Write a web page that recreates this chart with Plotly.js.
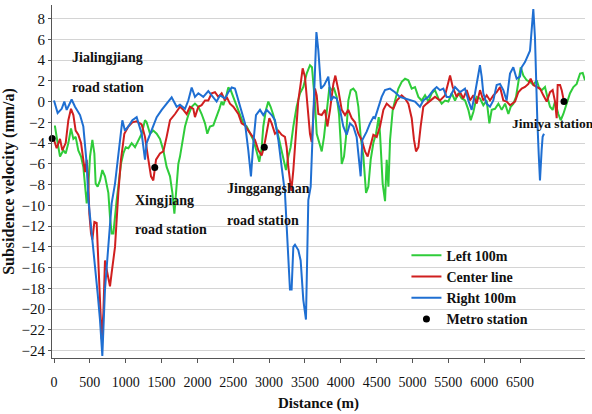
<!DOCTYPE html>
<html>
<head>
<meta charset="utf-8">
<script src="https://cdn.plot.ly/plotly-3.0.1.min.js"></script>
<style>html,body{margin:0;padding:0;background:#fff;}#chart{width:592px;height:414px;}</style>
</head>
<body>
<div id="chart"></div>
<script>
// Left 100m (green)
const leftX = [0,14,51,84,130,163,200,237,270,302,339,377,409,432,456,479,502,535,563,581,609,642,674,711,735,758,781,804,828,851,874,897,934,967,1000,1037,1083,1130,1176,1223,1269,1292,1339,1385,1432,1478,1525,1571,1618,1651,1679,1702,1734,1757,1794,1827,1873,1920,1966,2013,2059,2106,2138,2175,2222,2268,2306,2338,2361,2399,2431,2464,2501,2547,2594,2640,2687,2733,2780,2826,2863,2896,2919,2956,2989,3021,3059,3105,3152,3198,3235,3268,3300,3338,3384,3431,3477,3524,3570,3598,3617,3641,3664,3701,3734,3766,3803,3841,3873,3906,3943,3975,3999,4013,4045,4073,4105,4138,4175,4212,4245,4277,4315,4352,4384,4417,4454,4491,4529,4547,4584,4617,4640,4664,4687,4724,4757,4803,4850,4896,4942,4989,5035,5082,5128,5175,5221,5268,5314,5361,5407,5454,5500,5547,5593,5640,5686,5733,5779,5812,5849,5895,5942,5988,6035,6072,6105,6151,6198,6244,6291,6337,6370,6407,6444,6476,6509,6546,6593,6639,6686,6732,6769,6802,6848,6881,6918,6955,6988,7034,7067,7104,7150,7197,7244,7290,7337,7374,7406];
const leftY = [-2.4,-2.4,-4.0,-5.3,-4.7,-5.0,-4.0,-2.6,-3.6,-3.4,-4.7,-5.3,-6.3,-7.9,-9.8,-8.2,-5.3,-3.7,-5.0,-7.9,-8.2,-7.6,-6.6,-7.2,-7.9,-8.8,-11.1,-12.7,-12.7,-10.8,-9.5,-8.2,-6.0,-5.0,-4.4,-4.5,-4.0,-4.4,-3.7,-3.1,-1.8,-2.0,-3.1,-2.8,-3.1,-3.6,-4.7,-6.3,-7.2,-8.8,-10.8,-8.8,-6.0,-5.3,-3.7,-2.4,-1.3,-0.5,-0.2,-0.5,-1.2,-2.1,-3.1,-2.4,-2.3,-1.5,-0.7,0,-0.35,0.45,1.35,1.1,0.45,-0.5,-1.2,-2.1,-2.4,-3.1,-3.7,-4.8,-5.8,-4.5,-2.4,-0.8,0,-0.5,-1.3,-2.6,-4.0,-5.3,-6.6,-5.3,-4.4,-2.4,-0.5,0.8,1.4,2.7,3.5,3.3,1.7,-0.2,-3.1,-4.0,-4.8,-3.4,-0.8,1.4,1.1,1.25,0.45,-1.2,-4.0,-6.0,-5.3,-3.4,0.1,1.1,1.25,0.9,-0.5,-3.4,-5.3,-8.8,-8.2,-5.6,-4.0,-3.1,-1.5,-3.1,-7.9,-9.6,-5.6,-8.2,-3.7,-0.8,0.1,1.25,1.9,2.2,2.05,1.25,1.4,0.45,0.1,0.6,0,0.8,1.1,0.3,-0.2,0.1,0,0.8,0.1,0.8,0.3,0.1,-0.8,-1.8,-1.0,0.45,0.3,-0.35,0.1,-2.1,-0.8,-0.7,-0.2,-0.8,-0.2,-1.2,-0.5,-0.2,0.45,2.05,3.3,2.5,2.05,1.9,1.6,2.05,1.25,1.1,1.4,0.45,-0.5,-0.8,0,-1.2,-1.8,-1.2,-0.2,0.8,1.4,1.7,2.7,2.75,2.05];

// Center line (red)
const centerX = [0,37,84,116,163,200,237,270,302,339,377,409,432,456,479,493,516,535,563,595,618,642,665,688,711,735,781,804,851,897,934,981,1037,1093,1153,1223,1269,1316,1353,1385,1423,1478,1525,1571,1618,1688,1757,1804,1850,1896,1943,1966,2013,2059,2106,2152,2199,2245,2292,2338,2385,2408,2454,2501,2571,2617,2664,2710,2757,2803,2850,2896,2928,2966,3003,3036,3082,3129,3175,3221,3245,3268,3310,3338,3375,3407,3440,3468,3500,3533,3570,3594,3617,3640,3664,3687,3734,3780,3813,3850,3896,3924,3966,4013,4059,4105,4152,4198,4245,4291,4338,4375,4408,4454,4501,4547,4594,4640,4687,4733,4780,4849,4896,4942,4989,5021,5049,5082,5114,5151,5198,5245,5314,5384,5454,5524,5561,5616,5663,5709,5756,5802,5849,5895,5942,5988,6035,6081,6128,6174,6221,6267,6314,6360,6430,6476,6523,6569,6616,6648,6686,6732,6779,6825,6872,6918,6955,6988,7011,7025,7058,7081,7104];
const centerY = [-3.7,-4.5,-3.6,-4.7,-4.0,-1.8,-0.7,-1.3,-2.8,-3.2,-4.0,-6.0,-6.8,-5.6,-7.9,-10.8,-12.7,-13.3,-11.6,-11.7,-15.3,-19.1,-22.9,-20.4,-15.3,-16.2,-17.8,-16.5,-14.0,-8.8,-5.6,-3.1,-2.4,-2.0,-1.9,-2.2,-3.4,-5.6,-7.2,-7.6,-5.6,-5.0,-4.8,-3.4,-1.8,-1.2,-0.5,-0.8,-1.2,-0.5,-0.7,-1.5,-0.5,-0.35,0.1,0.1,0.8,0.9,0.45,0.8,0.1,0.45,-0.2,-0.5,-1.2,-2.1,-2.3,-2.8,-3.2,-3.7,-4.7,-5.2,-4.4,-3.1,-1.6,-2.1,-3.1,-2.8,-3.2,-3.4,-4.4,-6.3,-8.6,-6.6,-3.1,0.1,1.7,3.2,2.4,0.1,-3.1,-3.9,-0.8,1.25,0.6,-1.2,-1.3,-0.8,-2.4,-0.8,1.7,2.5,1.1,-0.8,-1.3,-0.8,-1.6,-2.0,-3.1,-3.7,-4.8,-5.3,-4.4,-3.2,-3.4,-2.4,-0.8,-0.2,-0.5,-0.7,0.1,0.6,0.3,-0.2,-1.6,-3.7,-4.8,-4.4,-2.4,-0.5,-0.2,0.1,0.45,0.1,0.6,2.5,1.4,0.45,0.9,0.3,1.1,0.1,0.6,-0.2,1.1,0.1,0.6,0.1,0.6,0.9,1.4,0.1,0,-0.35,0,0.9,1.25,1.4,1.7,2.2,1.6,1.4,1.25,0.6,0,0.9,1.1,0,-1.6,1.6,1.6,1.1,0.3];

// Right 100m (blue)
const rightX = [0,51,107,144,177,246,293,363,409,456,480,525,572,609,641,674,711,758,804,851,897,953,990,1037,1093,1153,1223,1269,1292,1362,1432,1502,1571,1641,1711,1757,1827,1873,1920,1966,2013,2082,2152,2199,2268,2315,2385,2431,2478,2524,2571,2617,2664,2710,2747,2780,2817,2873,2919,2966,3036,3082,3129,3175,3221,3245,3268,3291,3314,3338,3361,3407,3440,3477,3514,3533,3547,3580,3608,3631,3660,3687,3700,3724,3770,3826,3863,3896,3942,3989,4035,4082,4128,4175,4221,4244,4277,4300,4361,4407,4454,4477,4523,4570,4616,4686,4756,4825,4895,4988,5035,5104,5151,5221,5290,5337,5383,5430,5476,5523,5593,5662,5732,5779,5825,5872,5918,5941,5965,5988,6034,6081,6127,6174,6220,6267,6313,6360,6406,6453,6499,6522,6569,6601,6639,6662,6685,6708,6722,6741,6760,6778,6801,6815,6834];
const rightY = [0.1,-1.1,-0.7,0,-0.8,0.2,-0.5,-1.3,-2.4,-6.0,-9.5,-12.7,-15.3,-18.5,-21,-24.5,-18.1,-14.3,-9.8,-7.9,-5.3,-1.8,-2.8,-2.4,-1.8,-1.5,-3.1,-5.6,-4.0,-2.8,-1.5,-0.8,-0.2,0.4,-0.5,-0.3,-0.7,0.1,1.35,0.45,0.8,0.45,1.0,0.6,0,0.6,0.3,0.9,1.35,1.25,0.1,-0.8,-2.1,-4.7,-7.2,-4.0,-1.3,-0.8,-1.3,-0.8,-1.3,-1.8,-3.7,-6.3,-8.8,-12,-15.3,-18.1,-18.1,-14.0,-13.8,-14.3,-15.3,-19.1,-21.0,-15.9,-9.5,-8.2,-3.1,1.7,6.7,4.9,3.3,1.25,1.6,2.4,0.1,0.45,0.3,-0.8,-2.4,-3.2,-2.1,-2.4,-3.4,-5.3,-7.2,-3.7,-2.9,-2.1,-1.5,-1.6,-0.5,0.45,1.1,1.25,0.9,0.45,0.3,0.1,0,-0.5,0.1,0.45,1.1,1.4,1.1,1.25,0.45,0.45,1.4,0.9,1.25,0.1,-0.8,0.8,2.4,3.5,2.4,0.8,-0.2,-0.5,0.1,1.6,1.7,1.1,0.1,2.7,3.3,2.2,2.4,3.3,3.8,4.3,4.9,6.9,8.9,6.2,1.7,-1.8,-5.0,-7.6,-4.7,-3.4,-3.1];

// Metro stations
const stationNames = ["Jialingjiang road station","Xingjiang road station","Jinggangshan road station","Jimiya station"];
const stationX = [-25,1405,2933,7113];
const stationY = [-3.56,-6.35,-4.4,0.0];

const seriesNames = ["Left 100m","Center line","Right 100m","Metro station"];
const xTickVals = [0,500,1000,1500,2000,2500,3000,3500,4000,4500,5000,5500,6000,6500];
const yTickVals = [-24,-22,-20,-18,-16,-14,-12,-10,-8,-6,-4,-2,0,2,4,6,8];

const serif = 'Times New Roman, Liberation Serif, DejaVu Serif, serif';

const traces = [
  {x: leftX, y: leftY, name: seriesNames[0], mode: 'lines', line: {color: '#2fcc3a', width: 2}},
  {x: centerX, y: centerY, name: seriesNames[1], mode: 'lines', line: {color: '#d01f1f', width: 2}},
  {x: rightX, y: rightY, name: seriesNames[2], mode: 'lines', line: {color: '#1f6fd2', width: 2}},
  {x: stationX, y: stationY, name: seriesNames[3], mode: 'markers', text: stationNames, marker: {color: '#000', size: 7}, cliponaxis: false}
];

const labelLines = [
  {t: 'Jialingjiang', x: 223, y: 4.26, s: 14},
  {t: 'road station', x: 223, y: 1.37, s: 14},
  {t: 'Xingjiang', x: 1102, y: -9.5, s: 14},
  {t: 'road station', x: 1102, y: -12.3, s: 14},
  {t: 'Jinggangshan', x: 2385, y: -8.37, s: 14},
  {t: 'road station', x: 2385, y: -11.5, s: 14},
  {t: 'Jimiya station', x: 6360, y: -2.1, s: 13.5}
];

const annotations = labelLines.map(a => ({
  x: a.x, y: a.y, xref: 'x', yref: 'y', text: a.t, showarrow: false,
  xanchor: 'left', yanchor: 'middle',
  font: {family: serif, size: a.s, color: '#111', weight: 'bold'}
}));

const layout = {
  width: 592, height: 414,
  font: {family: serif, color: '#111'},
  margin: {l: 52, r: 7, t: 5, b: 56},
  paper_bgcolor: '#fff', plot_bgcolor: '#fff',
  showlegend: true,
  legend: {
    x: 0.665, y: 0.335, xanchor: 'left', yanchor: 'top',
    bgcolor: 'rgba(0,0,0,0)',
    font: {family: serif, size: 14, color: '#111', weight: 'bold'},
    tracegroupgap: 0
  },
  xaxis: {
    range: [-28, 7406],
    tickvals: xTickVals,
    ticks: 'outside', ticklen: 4, tickcolor: '#555',
    showline: true, linecolor: '#555', linewidth: 1,
    showgrid: false, zeroline: false,
    tickfont: {family: serif, size: 14, color: '#111'},
    ticklabelstandoff: 7,
    title: {text: 'Distance (m)', font: {family: serif, size: 15, color: '#111', weight: 'bold'}, standoff: 8}
  },
  yaxis: {
    range: [-24.7, 9.3],
    tickvals: yTickVals,
    ticks: 'outside', ticklen: 3, tickcolor: '#555',
    showline: true, linecolor: '#555', linewidth: 1,
    showgrid: true, gridcolor: '#d4d4d4', gridwidth: 1,
    zeroline: false,
    tickfont: {family: serif, size: 15, color: '#111'},
    title: {text: 'Subsidence velocity (mm/a)', font: {family: serif, size: 16, color: '#111', weight: 'bold'}, standoff: 4}
  },
  annotations: annotations
};

Plotly.newPlot('chart', traces, layout, {displayModeBar: false, staticPlot: true});
</script>
</body>
</html>
